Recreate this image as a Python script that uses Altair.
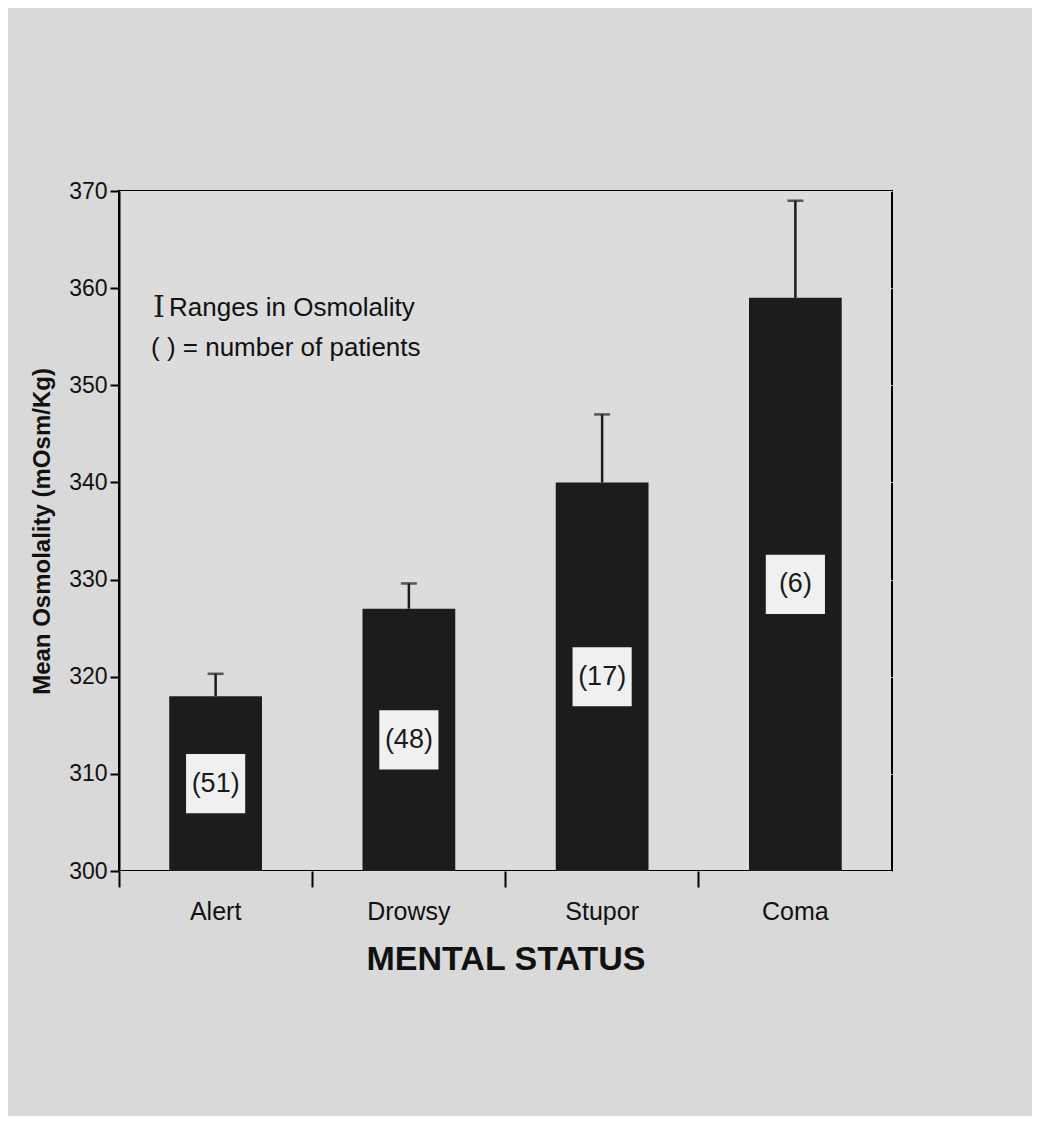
import altair as alt
import pandas as pd

# ---- data ----
categories = ["Alert", "Drowsy", "Stupor", "Coma"]
mean_osm = [318.0, 327.0, 340.0, 359.0]
range_top = [320.3, 329.6, 347.0, 369.0]
patients = [51, 48, 17, 6]
y_ticks = [300, 310, 320, 330, 340, 350, 360, 370]
legend_lines = ["Ranges in Osmolality", "( ) = number of patients"]
legend_y = [358.0, 353.8]

BASE = 300
FONT = "Liberation Sans Narrow, Liberation Sans, Arial, sans-serif"
YTITLE = "Mean Osmolality (mOsm/Kg)"
W, H = 773, 680

df = pd.DataFrame({"status": categories, "mean": mean_osm, "top": range_top, "n": patients})
df["label"] = ["(%d)" % v for v in patients]
df["mid"] = [(m + BASE) / 2 for m in mean_osm]

leg1 = pd.DataFrame({"txt": legend_lines[:1], "ly": legend_y[:1]})
leg2 = pd.DataFrame({"txt": legend_lines[1:], "ly": legend_y[1:]})

xenc = alt.X(
    "status:N", sort=categories, title="MENTAL STATUS",
    scale=alt.Scale(paddingInner=0, paddingOuter=0),
    axis=alt.Axis(bandPosition=0, labelAngle=0,
                  tickSize=16, tickWidth=2, labelFontSize=25, labelPadding=12,
                  titleFontSize=34, titleFontWeight="bold", titlePadding=18,
                  domain=False),
)
yscale = alt.Scale(domain=[300, 370], nice=False, zero=False)


def yenc(field):
    return alt.Y(field, type="quantitative", scale=yscale, title=YTITLE,
                 axis=alt.Axis(values=y_ticks, tickSize=9, tickWidth=2,
                               labelFontSize=23, labelPadding=3,
                               titleFontSize=24, titleFontWeight="bold",
                               titlePadding=14, domainWidth=2))


bars = alt.Chart(df).mark_bar(color="#1e1b1b", width=alt.RelativeBandSize(0.48)).encode(
    x=xenc, y=yenc("mean"), y2=alt.datum(BASE)
)
err = alt.Chart(df).mark_rule(color="#1e1b1b", strokeWidth=2.5).encode(
    x=xenc, y=yenc("mean"), y2="top:Q"
)
cap = alt.Chart(df).mark_tick(color="#1e1b1b", thickness=2.5, size=16).encode(
    x=xenc, y=yenc("top")
)
boxes = alt.Chart(df).mark_point(shape="square", filled=True, color="#f0f0f0",
                                 size=3500, opacity=1).encode(x=xenc, y=yenc("mid"))
labels = alt.Chart(df).mark_text(font=FONT, fontSize=27, color="#1a1a1a").encode(
    x=xenc, y=yenc("mid"), text="label:N"
)
legend_text1 = alt.Chart(leg1).mark_text(font=FONT, fontSize=26, align="left",
                                         fontWeight=500, color="#111111").encode(
    x=alt.value(50), y=yenc("ly"), text="txt:N"
)
legend_text2 = alt.Chart(leg2).mark_text(font=FONT, fontSize=26, align="left",
                                         fontWeight=500, color="#111111").encode(
    x=alt.value(32), y=yenc("ly"), text="txt:N"
)
ibeam = alt.Chart(leg1).mark_text(font="DejaVu Serif, Liberation Serif, serif",
                                  fontSize=30, color="#1a1a1a").encode(
    x=alt.value(40), y=yenc("ly"), text=alt.value("I")
)

chart = alt.layer(bars, err, cap, boxes, labels, legend_text1, legend_text2, ibeam).properties(
    width=W, height=H,
    padding={"left": 22, "top": 172, "right": 140, "bottom": 140},
    background="#d9d9d9",
).configure_view(
    stroke="black", strokeWidth=2, fill="#dcdcdc"
).configure_axis(
    domainColor="black", tickColor="black", labelColor="#111111", titleColor="#111111",
    labelFont=FONT, titleFont=FONT,
)

chart.save("out.html", embed_options={"renderer": "svg", "actions": False})
